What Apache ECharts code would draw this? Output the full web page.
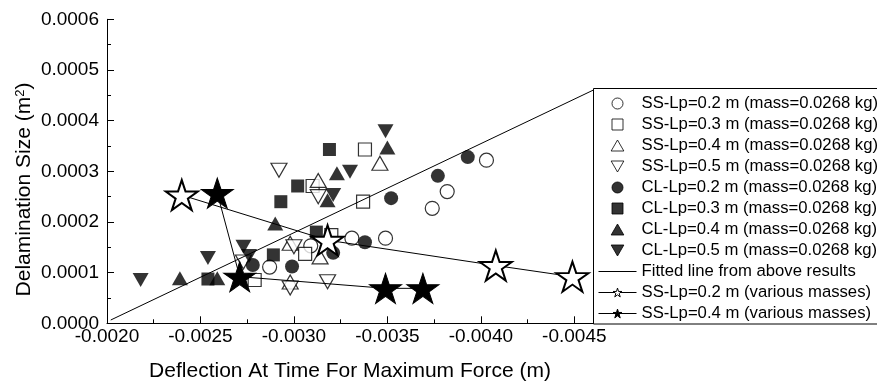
<!DOCTYPE html>
<html>
<head>
<meta charset="utf-8">
<script src="https://cdn.jsdelivr.net/npm/echarts@6/dist/echarts.min.js"></script>
<style>
  html, body { margin: 0; padding: 0; background: #fff; }
  #chart { width: 877px; height: 388px; }
</style>
</head>
<body>
<div id="chart"></div>
<script>
// Axis ticks
const xMajorTicks = [-0.0020, -0.0025, -0.0030, -0.0035, -0.0040, -0.0045];
const xMinorTicks = [-0.00225, -0.00275, -0.00325, -0.00375, -0.00425];

// Single-mass tests (mass = 0.0268 kg): [deflection (m), delamination size (m^2)]
const ssLp02 = [[-0.00403, 0.000322], [-0.00382, 0.000260], [-0.00374, 0.000227], [-0.00349, 0.000168],
                [-0.00331, 0.000168], [-0.00309, 0.000153], [-0.00287, 0.000111]];
const ssLp03 = [[-0.00338, 0.000343], [-0.00337, 0.000240], [-0.00310, 0.000271], [-0.00306, 0.000137],
                [-0.00320, 0.000174], [-0.00279, 0.0000855]];
const ssLp04 = [[-0.00346, 0.000316], [-0.00313, 0.000282], [-0.00314, 0.000131], [-0.00298, 0.000158],
                [-0.00298, 0.0000815]];
const ssLp05 = [[-0.00292, 0.000302], [-0.00313, 0.000250], [-0.00318, 0.0000821], [-0.00300, 0.000151],
                [-0.00298, 0.0000697], [-0.00273, 0.000121]];
const clLp02 = [[-0.00393, 0.000328], [-0.00377, 0.000291], [-0.00352, 0.000247], [-0.00338, 0.000160],
                [-0.00321, 0.000139], [-0.00299, 0.000112], [-0.00278, 0.000115]];
const clLp03 = [[-0.00319, 0.000343], [-0.00302, 0.000271], [-0.00293, 0.000240], [-0.00312, 0.000180],
                [-0.00289, 0.000135], [-0.00254, 0.0000874]];
const clLp04 = [[-0.00350, 0.000347], [-0.00323, 0.000296], [-0.00318, 0.000243], [-0.00290, 0.000197],
                [-0.00239, 0.0000888], [-0.00259, 0.0000888]];
const clLp05 = [[-0.00349, 0.000379], [-0.00330, 0.000299], [-0.00321, 0.000253], [-0.00218, 0.0000855],
                [-0.00254, 0.000129], [-0.00273, 0.000151], [-0.00276, 0.000133]];

// Linear fit through the single-mass results
const fittedLine = [[-0.00202, 0.0000065], [-0.0046, 0.000460]];

// Various-mass tests
const ssLp02Masses = [[-0.00240, 0.000253], [-0.00318, 0.000164], [-0.00408, 0.000114], [-0.00449, 0.000092]];
const ssLp04Masses = [[-0.00259, 0.000257], [-0.00271, 0.000092], [-0.00349, 0.000069], [-0.00369, 0.000069]];

const FONT = 'Liberation Sans';
const STAR = 'path://M50,0L61.23,34.55L97.55,34.55L68.17,55.9L79.39,90.45L50,69.1L20.61,90.45L31.83,55.9L2.45,34.55L38.77,34.55Z';
const TRI_UP = 'path://M1,0L2,1.732L0,1.732Z';
const TRI_DOWN = 'path://M0,0L2,0L1,1.732Z';
const SQUARE = 'path://M0,0H1V1H0Z';

const openStyle = { color: '#fff', borderColor: '#000', borderWidth: 1.2 };
const filledStyle = { color: '#000', borderColor: '#000', borderWidth: 0 };

function scatter(name, data, symbol, size, style) {
  return { type: 'scatter', name, data, symbol, symbolSize: size, itemStyle: style };
}

const chart = echarts.init(document.getElementById('chart'), null, { renderer: 'canvas' });

chart.setOption({
  animation: false,
  backgroundColor: '#fff',
  textStyle: { fontFamily: FONT, color: '#000' },
  grid: { left: 107, right: 284, top: 19.3, bottom: 64.7 },
  xAxis: [{
    type: 'value', inverse: true, min: -0.0046, max: -0.0020,
    name: 'Deflection At Time For Maximum Force (m)',
    nameLocation: 'middle', nameGap: 37,
    nameTextStyle: { fontSize: 21, color: '#000', fontFamily: FONT },
    axisLine: { show: true, onZero: false, lineStyle: { color: '#000', width: 1 } },
    axisTick: { show: true, inside: true, length: 7, customValues: xMajorTicks, lineStyle: { color: '#000' } },
    axisLabel: { customValues: xMajorTicks, margin: 4, fontSize: 19, color: '#000', fontFamily: FONT,
                 formatter: v => v.toFixed(4) },
    splitLine: { show: false }
  }, {
    type: 'value', inverse: true, min: -0.0046, max: -0.0020, position: 'bottom',
    axisLine: { show: false },
    axisTick: { show: true, inside: true, length: 4, customValues: xMinorTicks, lineStyle: { color: '#000' } },
    axisLabel: { show: false },
    splitLine: { show: false }
  }],
  yAxis: {
    type: 'value', min: 0, max: 0.0006, interval: 0.0001,
    axisLine: { show: true, lineStyle: { color: '#000', width: 1 } },
    axisTick: { show: true, inside: true, length: 7, lineStyle: { color: '#000' } },
    minorTick: { show: true, splitNumber: 2, length: 4, lineStyle: { color: '#000' } },
    axisLabel: { margin: 8, fontSize: 19, color: '#000', fontFamily: FONT, formatter: v => v.toFixed(4) },
    splitLine: { show: false }
  },
  graphic: [{
    type: 'text', x: 24.5, y: 189.5, rotation: Math.PI / 2,
    style: {
      text: 'Delamination Size (m{sup|2})',
      fill: '#000', fontSize: 21, fontFamily: FONT,
      align: 'center', verticalAlign: 'middle',
      rich: { sup: { fontSize: 13, fontFamily: FONT, fill: '#000', verticalAlign: 'top' } }
    }
  }, {
    // legend frame, running off the right edge of the canvas
    type: 'rect', z: 3,
    shape: { x: 593.5, y: 88.5, width: 320, height: 235.5 },
    style: { fill: '#fff', stroke: '#000', lineWidth: 1 }
  }],
  legend: {
    orient: 'vertical', left: 593, top: 88, z: 5,
    padding: [7, 30, 8, 5],
    itemWidth: 38, itemHeight: 11, itemGap: 4,
    selectedMode: false,
    itemStyle: { borderWidth: 1 },
    lineStyle: { width: 1 },
    textStyle: { fontSize: 16.7, lineHeight: 16.5, color: '#000', fontFamily: FONT },
    data: [
      'SS-Lp=0.2 m (mass=0.0268 kg)', 'SS-Lp=0.3 m (mass=0.0268 kg)',
      'SS-Lp=0.4 m (mass=0.0268 kg)', 'SS-Lp=0.5 m (mass=0.0268 kg)',
      'CL-Lp=0.2 m (mass=0.0268 kg)', 'CL-Lp=0.3 m (mass=0.0268 kg)',
      'CL-Lp=0.4 m (mass=0.0268 kg)', 'CL-Lp=0.5 m (mass=0.0268 kg)',
      { name: 'Fitted line from above results', icon: 'path://M0,0M0,5h38v1h-38zM38,11' },
      'SS-Lp=0.2 m (various masses)', 'SS-Lp=0.4 m (various masses)'
    ]
  },
  series: [
    scatter('SS-Lp=0.2 m (mass=0.0268 kg)', ssLp02, 'circle', 14, openStyle),
    scatter('SS-Lp=0.3 m (mass=0.0268 kg)', ssLp03, SQUARE, 13, openStyle),
    scatter('SS-Lp=0.4 m (mass=0.0268 kg)', ssLp04, TRI_UP, [16, 14], openStyle),
    scatter('SS-Lp=0.5 m (mass=0.0268 kg)', ssLp05, TRI_DOWN, [16, 14], openStyle),
    scatter('CL-Lp=0.2 m (mass=0.0268 kg)', clLp02, 'circle', 14, filledStyle),
    scatter('CL-Lp=0.3 m (mass=0.0268 kg)', clLp03, SQUARE, 13, filledStyle),
    scatter('CL-Lp=0.4 m (mass=0.0268 kg)', clLp04, TRI_UP, [16, 14], filledStyle),
    scatter('CL-Lp=0.5 m (mass=0.0268 kg)', clLp05, TRI_DOWN, [16, 14], filledStyle),
    {
      type: 'line', name: 'Fitted line from above results', data: fittedLine,
      symbol: 'none', color: '#000',
      lineStyle: { color: '#000', width: 1 }
    },
    {
      type: 'line', name: 'SS-Lp=0.2 m (various masses)', data: ssLp02Masses,
      symbol: STAR, symbolSize: [32, 30], showAllSymbol: true, color: '#000',
      lineStyle: { color: '#000', width: 1 },
      itemStyle: { color: '#fff', borderColor: '#000', borderWidth: 2 }
    },
    {
      type: 'line', name: 'SS-Lp=0.4 m (various masses)', data: ssLp04Masses,
      symbol: STAR, symbolSize: [32, 30], showAllSymbol: true, color: '#000',
      lineStyle: { color: '#000', width: 1 },
      itemStyle: { color: '#000', borderColor: '#000', borderWidth: 1 }
    }
  ]
});
</script>
</body>
</html>
